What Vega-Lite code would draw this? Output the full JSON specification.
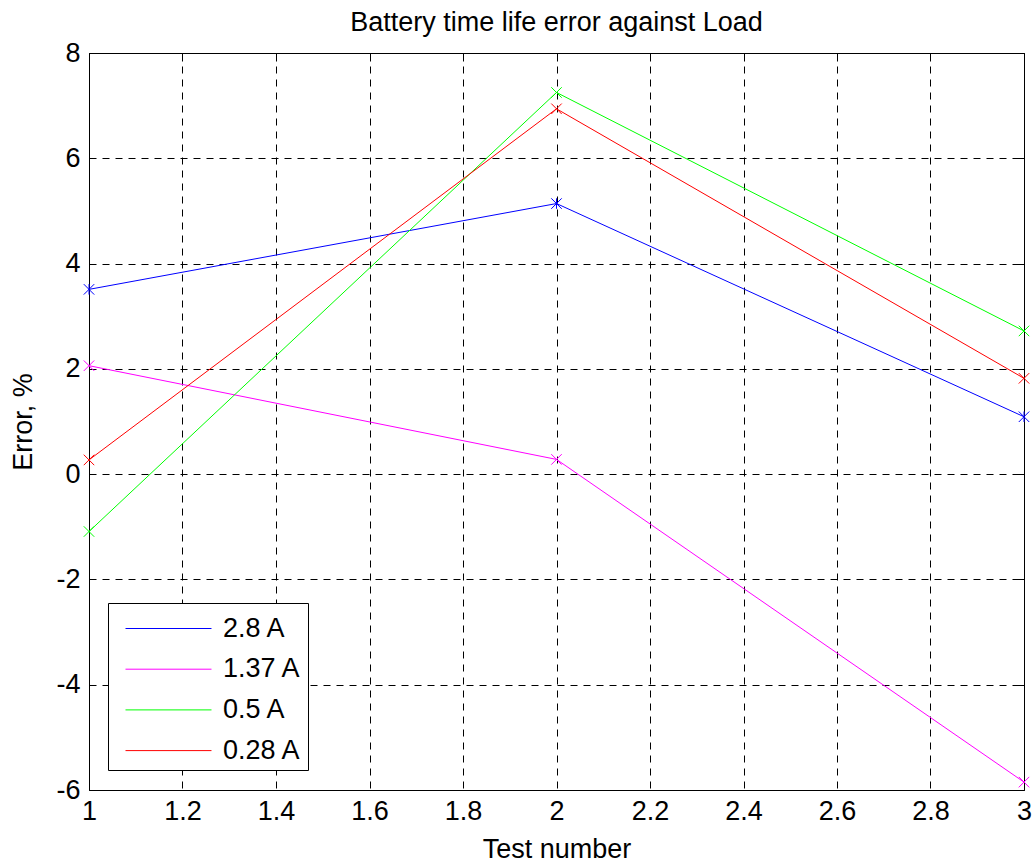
{
  "$schema": "https://vega.github.io/schema/vega-lite/v6.json",
  "width": 935,
  "height": 737,
  "autosize": {"type": "none"},
  "padding": {"left": 89, "top": 53, "right": 11, "bottom": 73},
  "background": "white",
  "title": {
    "text": "Battery time life error against Load",
    "font": "Liberation Sans",
    "fontSize": 27,
    "fontWeight": "normal",
    "color": "black",
    "anchor": "middle",
    "offset": 2
  },
  "config": {
    "view": {"stroke": "black", "strokeWidth": 1},
    "font": "Liberation Sans",
    "axis": {
      "labelFont": "Liberation Sans",
      "labelFontSize": 27,
      "labelColor": "black",
      "titleFont": "Liberation Sans",
      "titleFontSize": 27,
      "titleFontWeight": "normal",
      "titleColor": "black",
      "domainColor": "black",
      "tickColor": "black",
      "gridColor": "black",
      "gridDash": [7, 6],
      "gridWidth": 1,
      "gridOpacity": 1
    }
  },
  "data": {
    "values": [
      {"test": 1, "error": 3.51, "load": "2.8 A"},
      {"test": 2, "error": 5.14, "load": "2.8 A"},
      {"test": 3, "error": 1.09, "load": "2.8 A"},
      {"test": 1, "error": 2.06, "load": "1.37 A"},
      {"test": 2, "error": 0.28, "load": "1.37 A"},
      {"test": 3, "error": -5.85, "load": "1.37 A"},
      {"test": 1, "error": -1.09, "load": "0.5 A"},
      {"test": 2, "error": 7.25, "load": "0.5 A"},
      {"test": 3, "error": 2.72, "load": "0.5 A"},
      {"test": 1, "error": 0.27, "load": "0.28 A"},
      {"test": 2, "error": 6.94, "load": "0.28 A"},
      {"test": 3, "error": 1.82, "load": "0.28 A"}
    ]
  },
  "layer": [
    {
      "mark": {"type": "line", "strokeWidth": 1, "clip": false},
      "encoding": {
        "x": {
          "field": "test",
          "type": "quantitative",
          "scale": {"domain": [1, 3], "nice": false, "zero": false},
          "axis": {
            "orient": "bottom",
            "title": "Test number",
            "values": [1, 1.2, 1.4, 1.6, 1.8, 2, 2.2, 2.4, 2.6, 2.8, 3],
            "format": ".1~f",
            "tickSize": 0,
            "labelPadding": 8,
            "titlePadding": 12,
            "grid": true,
            "labelFlush": false,
            "labelOverlap": false
          }
        },
        "y": {
          "field": "error",
          "type": "quantitative",
          "scale": {"domain": [-6, 8], "nice": false, "zero": false},
          "axis": {
            "orient": "left",
            "title": "Error, %",
            "values": [-6, -4, -2, 0, 2, 4, 6, 8],
            "labelExpr": "replace(datum.label, '\u2212', '-')",
            "tickSize": 0,
            "labelPadding": 9,
            "titlePadding": 18,
            "grid": true,
            "labelFlush": false,
            "labelOverlap": false
          }
        },
        "color": {
          "field": "load",
          "type": "nominal",
          "scale": {
            "domain": ["2.8 A", "1.37 A", "0.5 A", "0.28 A"],
            "range": ["#0000ff", "#ff00ff", "#00ff00", "#ff0000"]
          },
          "legend": {
            "title": null,
            "orient": "none",
            "legendX": 19,
            "legendY": 550,
            "symbolType": "M-2.263,0H2.263",
            "symbolSize": 1444,
            "symbolStrokeWidth": 1,
            "symbolOffset": 35,
            "labelOffset": 35,
            "rowPadding": 7.7,
            "labelFont": "Liberation Sans",
            "labelFontSize": 27,
            "labelColor": "black",
            "strokeColor": "black",
            "fillColor": "white",
            "padding": 6
          }
        }
      }
    },
    {
      "mark": {"type": "point", "filled": false, "size": 110, "strokeWidth": 1, "opacity": 1, "clip": false},
      "encoding": {
        "x": {
          "field": "test",
          "type": "quantitative",
          "axis": {
            "orient": "top",
            "title": null,
            "labels": false,
            "domain": false,
            "grid": false,
            "values": [1, 1.2, 1.4, 1.6, 1.8, 2, 2.2, 2.4, 2.6, 2.8, 3],
            "tickSize": -8
          }
        },
        "y": {
          "field": "error",
          "type": "quantitative",
          "axis": {
            "orient": "right",
            "title": null,
            "labels": false,
            "domain": false,
            "grid": false,
            "values": [-6, -4, -2, 0, 2, 4, 6, 8],
            "tickSize": -8
          }
        },
        "stroke": {
          "field": "load",
          "type": "nominal",
          "scale": {
            "domain": ["2.8 A", "1.37 A", "0.5 A", "0.28 A"],
            "range": ["#0000ff", "#ff00ff", "#00ff00", "#ff0000"]
          },
          "legend": null
        },
        "shape": {
          "field": "load",
          "type": "nominal",
          "scale": {
            "domain": ["2.8 A", "1.37 A", "0.5 A", "0.28 A"],
            "range": ["M-1,-1L1,1M1,-1L-1,1M0,-1L0,1", "M-1,-1L1,1M1,-1L-1,1", "M-1,-1L1,1M1,-1L-1,1", "M-1,-1L1,1M1,-1L-1,1"]
          },
          "legend": null
        }
      }
    }
  ],
  "resolve": {
    "axis": {"x": "independent", "y": "independent"},
    "legend": {"color": "independent", "stroke": "independent", "shape": "independent"}
  }
}
